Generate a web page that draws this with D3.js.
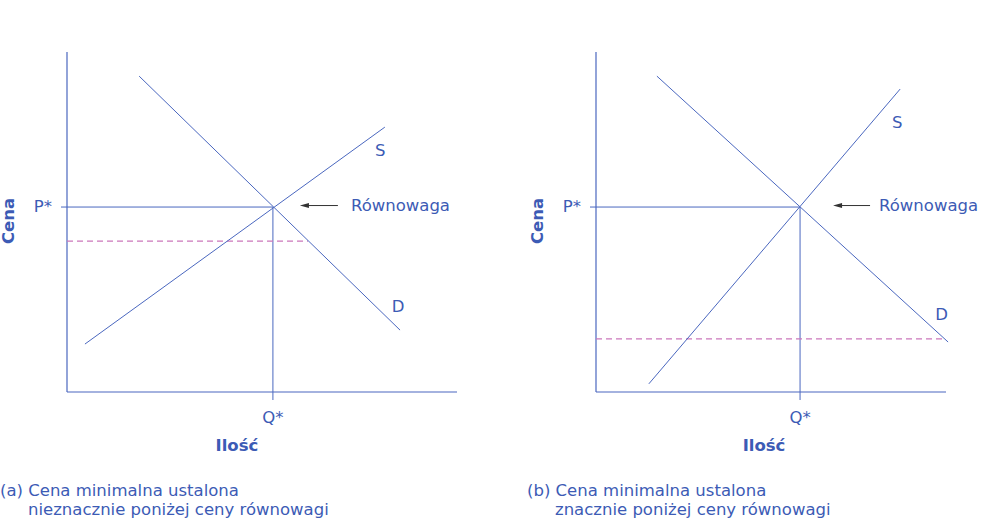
<!DOCTYPE html>
<html><head><meta charset="utf-8">
<script src="https://cdn.jsdelivr.net/npm/d3@7"></script>
<style>body{margin:0;background:#fff}svg{display:block;font-family:"DejaVu Sans",sans-serif}</style>
</head><body>
<svg id="c" width="995" height="519"></svg>
<script>
const panelIds = ["a","b"];
const captions = [["(a) Cena minimalna ustalona","nieznacznie poniżej ceny równowagi"],["(b) Cena minimalna ustalona","znacznie poniżej ceny równowagi"]];
const supplyA = [[0.46,1.41],[8.15,7.79]];
const demandA = [[1.85,9.29],[8.54,1.82]];
const supplyB = [[1.51,0.24],[8.69,8.91]];
const demandB = [[1.74,9.29],[10.06,1.47]];
const eqQ = [5.28,5.83];
const eqP = [5.44,5.44];
const floorPrice = [4.44,1.56];
const floorExtent = [6.18,10];
const labelS = [[7.9,7.06],[8.46,7.9]];
const labelD = [[8.33,2.5],[9.69,2.26]];

const blue="#4a67bf", text="#3c5bb5", pink="#cc77bb";
const FS=16.5;
const svg=d3.select("#c");
const layout=[{x0:67,x1:457},{x0:596,x1:946}];
const panels=[{s:supplyA,d:demandA},{s:supplyB,d:demandB}];

panelIds.forEach((id,i)=>{
  const L=layout[i];
  const x=d3.scaleLinear().domain([0,10]).range([L.x0,L.x1]);
  const y=d3.scaleLinear().domain([0,10]).range([392,52]);
  const g=svg.append("g");
  const line=d3.line().x(d=>x(d[0])).y(d=>y(d[1]));
  g.append("line").attr("x1",x(0)).attr("x2",x(0)).attr("y1",y(10)).attr("y2",y(0)).attr("stroke",blue).attr("stroke-width",1.2);
  g.append("line").attr("x1",x(0)).attr("x2",x(10)).attr("y1",y(0)).attr("y2",y(0)).attr("stroke",blue).attr("stroke-width",1.2);
  g.append("line").attr("x1",x(0)-6).attr("x2",x(eqQ[i])).attr("y1",y(eqP[i])).attr("y2",y(eqP[i])).attr("stroke",blue).attr("stroke-width",1);
  g.append("line").attr("x1",x(eqQ[i])).attr("x2",x(eqQ[i])).attr("y1",y(eqP[i])).attr("y2",y(0)+8).attr("stroke",blue).attr("stroke-width",1);
  g.append("line").attr("x1",x(0)).attr("x2",x(floorExtent[i])).attr("y1",y(floorPrice[i])).attr("y2",y(floorPrice[i])).attr("stroke",pink).attr("stroke-width",1.2).attr("stroke-dasharray","6,4");
  g.append("path").attr("d",line(panels[i].s)).attr("fill","none").attr("stroke",blue).attr("stroke-width",1);
  g.append("path").attr("d",line(panels[i].d)).attr("fill","none").attr("stroke",blue).attr("stroke-width",1);
  const t=(tx,ty,s,o={})=>g.append("text").attr("x",tx).attr("y",ty).text(s).attr("fill",text).attr("font-size",o.fs||FS).attr("font-weight",o.fw||"normal").attr("text-anchor",o.a||"start").attr("dominant-baseline","middle");
  t(x(labelS[i][0]),y(labelS[i][1]),"S");
  t(x(labelD[i][0]),y(labelD[i][1]),"D");
  t(x(0)-15,y(eqP[i]),"P*",{a:"end"});
  t(x(eqQ[i]),418,"Q*",{a:"middle"});
  t(x(eqQ[i])-36,446,"Ilość",{a:"middle",fw:"bold"});
  g.append("text").attr("transform",`translate(${x(0)-58},221) rotate(-90)`).attr("text-anchor","middle").attr("dominant-baseline","middle").attr("fill",text).attr("font-size",FS).attr("font-weight","bold").text("Cena");
  const ax=x(eqQ[i]);
  const ay=y(eqP[i])-1.5;
  const ae=i===0?65:70, as=i===0?27:33, tg=i===0?13:9;
  g.append("line").attr("x1",ax+ae).attr("x2",ax+as+6).attr("y1",ay).attr("y2",ay).attr("stroke","#333").attr("stroke-width",1);
  g.append("path").attr("d",`M${ax+as},${ay}L${ax+as+9},${ay-2.5}L${ax+as+9},${ay+2.5}Z`).attr("fill","#333");
  t(ax+ae+tg,ay+0.5,"Równowaga");
  const cx=i===0?0:527;
  g.append("text").attr("x",cx).attr("y",491).attr("fill",text).attr("font-size",FS).attr("dominant-baseline","middle").text(captions[i][0]);
  g.append("text").attr("x",cx+28).attr("y",510).attr("fill",text).attr("font-size",FS).attr("dominant-baseline","middle").text(captions[i][1]);
});
</script>
</body></html>
